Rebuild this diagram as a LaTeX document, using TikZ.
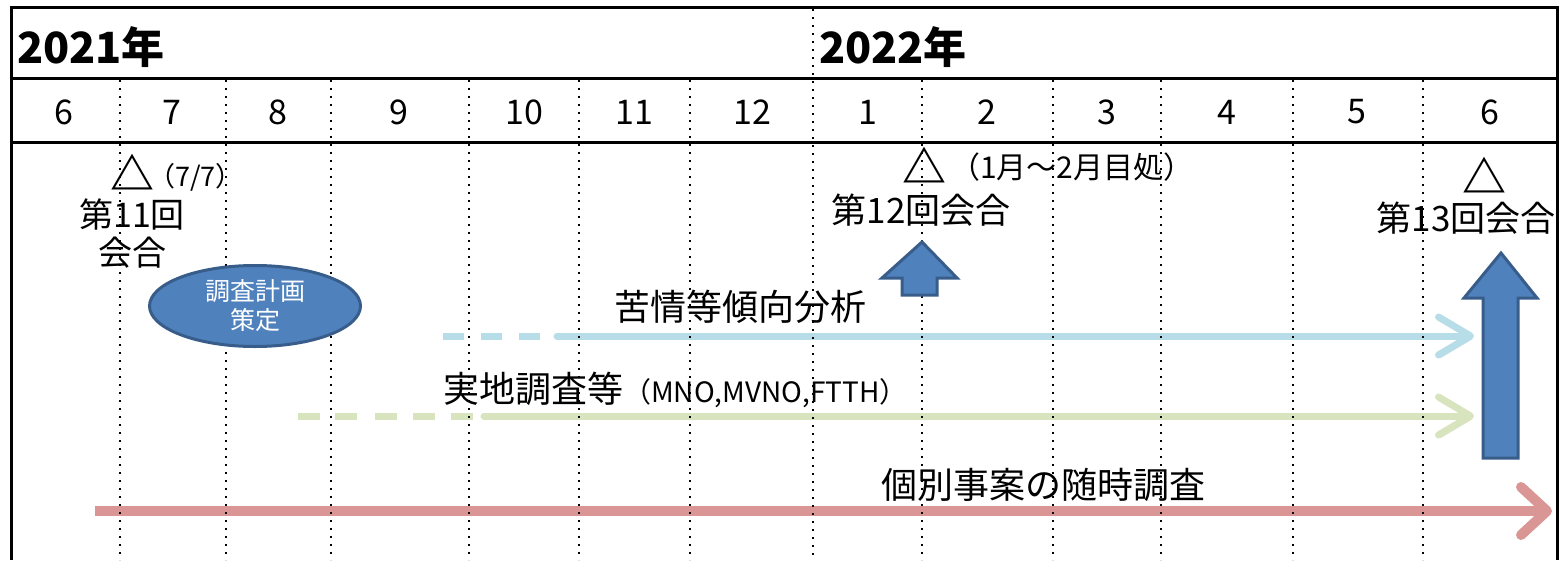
\documentclass[tikz,border=0pt]{standalone}
\usepackage{fontspec}
\setmainfont{Noto Sans CJK JP}
\usetikzlibrary{arrows.meta,shapes.geometric}
\definecolor{aqua}{HTML}{B7DEE8}
\definecolor{olivine}{HTML}{D7E4BD}
\definecolor{rose}{HTML}{D99694}
\definecolor{steel}{HTML}{4F81BD}
\definecolor{steeldark}{HTML}{385D8A}
\tikzset{
  frame/.style={line width=3pt},
  sep/.style={line width=2pt,dash pattern=on 2pt off 6pt},
  month/.style={font=\fontsize{34}{34}\selectfont,inner sep=0pt},
  yearlbl/.style={font=\fontsize{43}{43}\selectfont\bfseries,anchor=west,inner sep=0pt},
  lbl/.style={font=\fontsize{35}{38}\selectfont,align=center,inner sep=0pt},
  tri/.style={font=\fontsize{44}{44}\selectfont\bfseries,inner sep=0pt},
  note/.style={font=\fontsize{27}{27}\selectfont,inner sep=0pt,anchor=west},
  bar/.style={line width=7pt,preaction={draw=black,opacity=0.12,transform canvas={shift={(2pt,-3pt)}}}},
  bardash/.style={line width=7pt},
  blockarrow/.style={fill=steel,draw=steeldark,line width=3pt,line join=miter},
}
\begin{document}
\begin{tikzpicture}[x=1pt,y=-1pt]
\useasboundingbox (0,0) rectangle (1559,560);
% timeline bars
\coordinate (aq1) at (557,336); \coordinate (aq2) at (1474,336);
\coordinate (ol1) at (484,416); \coordinate (ol2) at (1474,416);
\coordinate (ro0) at (95,511); \coordinate (ro1) at (1552,511);
\foreach \a in {443,481,519}
  \draw[bardash,aqua] (\a,336) -- ++(21,0);
\draw[bar,aqua,line cap=round,-{Straight Barb[length=32pt,width=38pt,round]}] (aq1) -- (aq2);
\foreach \a in {298,335,375,413,451}
  \draw[bardash,olivine] (\a,416) -- ++(22,0);
\draw[bar,olivine,line cap=round,-{Straight Barb[length=32pt,width=38pt,round]}] (ol1) -- (ol2);
\draw[bar,rose,line width=10pt,-{Straight Barb[length=26pt,width=48pt,round]}] (ro0) -- (ro1);
% month grid
\foreach \x in {120,226,331,469,579,690,922,1053,1161,1293,1423}
  \draw[sep] (\x,80) -- (\x,560);
\draw[sep] (813,9) -- (813,560);
\draw[frame] (11,560) -- (11,7) -- (1557,7) -- (1557,560);
\draw[frame] (11,78) -- (1557,78);
\draw[frame] (11,142) -- (1557,142);
\node[yearlbl] (y1) at (17,47) {2021年};
\node[yearlbl] (y2) at (819,47) {2022年};
\foreach \x/\m [count=\i] in {64/6,172/7,278/8,399/9,524/10,634/11,752/12,868/1,987/2,1107/3,1227/4,1357/5,1490/6}
  \node[month] (mon\i) at (\x,112) {\m};
% meetings
\node[tri] (t11) at (132,172) {△};
\node[note] (d11) at (148,177) {（7/7）};
\node[lbl,font=\fontsize{34}{38}\selectfont] (k11) at (132,234) {第11回\\会合};
\node[tri] (t12) at (924,165) {△};
\node[note,font=\fontsize{30}{30}\selectfont] (d12) at (950,167) {（1月～2月目処）};
\node[lbl] (k12) at (921,210) {第12回会合};
\node[tri] (t13) at (1484,175) {△};
\node[lbl] (k13) at (1466,218) {第13回会合};
\node[ellipse,minimum width=211pt,minimum height=81pt,fill=steel,draw=steeldark,line width=3pt,
  text=white,align=center,inner sep=0pt,font=\fontsize{25}{29}\selectfont] (plan) at (255,306) {調査計画\\策定};
\draw[blockarrow] (922,242) -- (957,278) -- (937,278) -- (937,295) -- (902,295) -- (902,278) -- (882,278) -- cycle;
\draw[blockarrow] (1501,253) -- (1537,298) -- (1518,298) -- (1518,458) -- (1483,458) -- (1483,298) -- (1464,298) -- cycle;
% bar labels
\node[lbl,font=\fontsize{36}{36}\selectfont] (ana) at (740,307) {苦情等傾向分析};
\node[lbl,anchor=west] (site) at (443,390) {{\fontsize{36}{36}\selectfont 実地調査等}{\fontsize{28}{28}\selectfont （MNO,MVNO,FTTH）}};
\node[lbl,font=\fontsize{36}{36}\selectfont] (case) at (1043,485) {個別事案の随時調査};
\end{tikzpicture}
\end{document}
